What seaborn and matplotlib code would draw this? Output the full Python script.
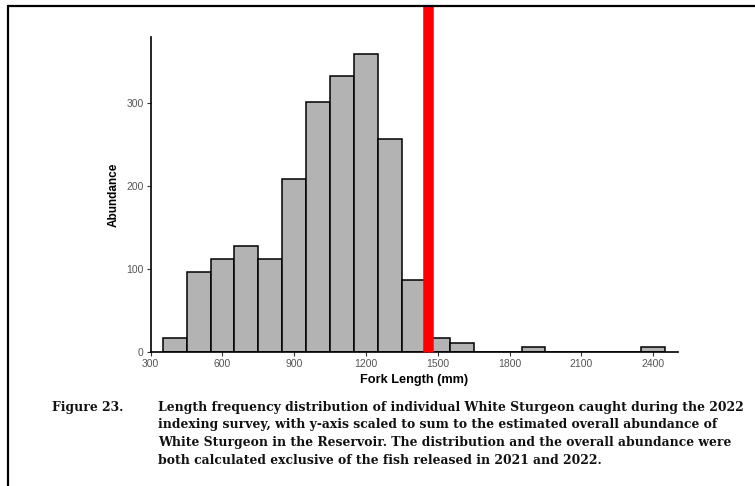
import matplotlib
matplotlib.use("Agg")
import matplotlib.pyplot as plt
from matplotlib.lines import Line2D
import seaborn as sns
import pandas as pd

# Data (bin centres in mm, abundance per 100-mm bin)
bin_centers = [400, 500, 600, 700, 800, 900, 1000, 1100, 1200, 1300, 1400, 1500, 1600,
               1700, 1800, 1900, 2000, 2100, 2200, 2300, 2400]
abundance = [16, 96, 112, 128, 112, 209, 301, 333, 360, 257, 86, 16, 11,
             0, 0, 5.5, 0, 0, 0, 0, 5.5]
bin_width = 100
release_length = 1458  # red reference line (mm)
x_ticks = [300, 600, 900, 1200, 1500, 1800, 2100, 2400]
y_ticks = [0, 100, 200, 300]
caption_label = "Figure 23."
caption_lines = [
    "Length frequency distribution of individual White Sturgeon caught during the 2022",
    "indexing survey, with y-axis scaled to sum to the estimated overall abundance of",
    "White Sturgeon in the Reservoir. The distribution and the overall abundance were",
    "both calculated exclusive of the fish released in 2021 and 2022.",
]

sns.set_theme(style="white")
plt.rcParams["font.family"] = ["Liberation Sans", "DejaVu Sans"]

W, H = 755, 486
fig = plt.figure(figsize=(W / 100, H / 100), dpi=100)
left, right, bottom, top = 150.7, 678, 351.7, 37
ax = fig.add_axes([left / W, 1 - bottom / H, (right - left) / W, (bottom - top) / H])

df = pd.DataFrame({"length": bin_centers, "abundance": abundance})
sns.histplot(data=df, x="length", weights="abundance", binwidth=bin_width,
             binrange=(bin_centers[0] - bin_width / 2, bin_centers[-1] + bin_width / 2),
             ax=ax, color="#b3b3b3", edgecolor="black", linewidth=1.1, alpha=1)

ax.set_xlim(300, 2504)
ax.set_ylim(0, 380)
ax.set_xticks(x_ticks)
ax.set_yticks(y_ticks)
ax.tick_params(axis="both", direction="out", length=3, width=0.8, color="#333333",
               labelsize=7.5, labelcolor="#555555", pad=2, bottom=True, left=True)
for s in ["top", "right"]:
    ax.spines[s].set_visible(False)
for s in ["left", "bottom"]:
    ax.spines[s].set_color("black")
    ax.spines[s].set_linewidth(1.2)

ax.set_xlabel("Fork Length (mm)", fontsize=9.2, fontweight="bold", color="black", labelpad=4)
ax.set_ylabel("Abundance", fontsize=8.5, fontweight="bold", color="black", labelpad=5)

# red vertical line extending up to the page border
ymax = (bottom - 6) / (bottom - top)
ax.axvline(release_length, ymin=0, ymax=ymax, color="red", linewidth=7.6,
           solid_capstyle="butt", clip_on=False, zorder=5)

# page border (left and top)
fig.add_artist(Line2D([8 / W, 8 / W], [0, 1 - 6 / H], color="black", linewidth=1.6,
                      transform=fig.transFigure))
fig.add_artist(Line2D([8 / W, 1], [1 - 6 / H, 1 - 6 / H], color="black", linewidth=1.6,
                      transform=fig.transFigure))

serif = ["DejaVu Serif"]
fig.text(52 / W, 1 - 407 / H, caption_label, family=serif, fontweight="bold",
         fontsize=8.95, va="center", ha="left", color="#111111")
for i, line in enumerate(caption_lines):
    fig.text(158 / W, 1 - (407 + i * 17.8) / H, line, family=serif, fontweight="bold",
             fontsize=8.95, va="center", ha="left", color="#111111")

fig.savefig("out.png", dpi=100)
